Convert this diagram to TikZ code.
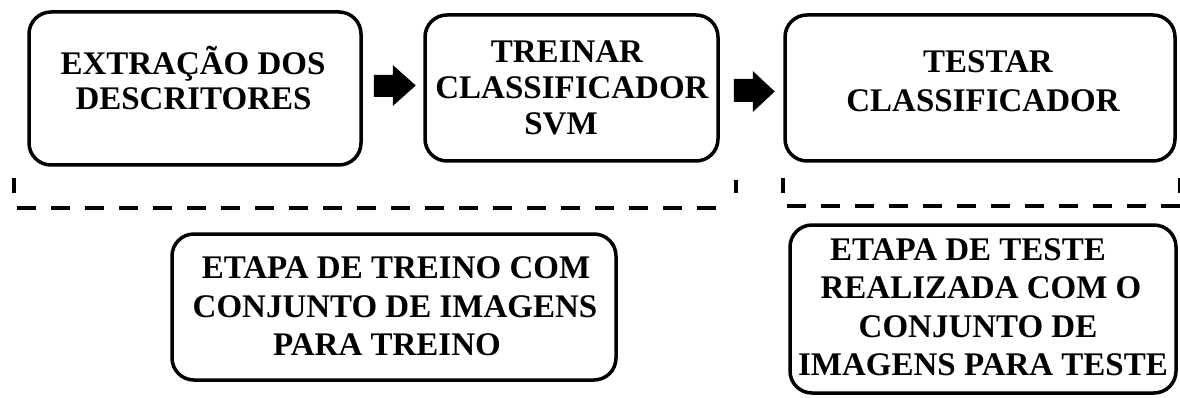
\documentclass[tikz,border=0pt]{standalone}
\usepackage{fontspec}
\setmainfont{Liberation Serif}
\usetikzlibrary{calc}
\begin{document}
\begin{tikzpicture}[x=1pt,y=-1pt,
  stagebox/.style={draw=black,line width=3.5pt,rounded corners=22pt,
    minimum width=#1,inner sep=0pt},
  txt/.style={font=\fontsize{33}{37}\selectfont\bfseries,anchor=base,inner sep=0pt},
  blockarrow/.style={fill=black},
  sep/.style={line width=4.5pt,dash pattern=on 19pt off 15pt},
  tick/.style={line width=4pt}]
\useasboundingbox (0,0) rectangle (1180,398);

% process stages
\node[stagebox=332pt,minimum height=153pt] (b1) at (195,88.5) {};
\node[stagebox=293pt,minimum height=146pt] (b2) at (571.5,88) {};
\node[stagebox=390pt,minimum height=146pt] (b3) at (980,88) {};

\node[txt] (b1a) at (193,75) {EXTRAÇÃO DOS};
\node[txt] (b1b) at (193.5,110) {DESCRITORES};

\node[txt] (b2a) at (567,63) {TREINAR};
\node[txt] (b2b) at (572,99) {CLASSIFICADOR};
\node[txt] (b2c) at (561,135) {SVM};

\node[txt] (b3a) at (988,73) {TESTAR};
\node[txt] (b3b) at (983,112) {CLASSIFICADOR};

% block arrows between stages
\fill[blockarrow] ($(b1.east)+(11,-13.5)$) -- ++(19,0) -- ++(0,-10) -- ++(23,20.5)
  -- ++(-23,20.5) -- ++(0,-9) -- ++(-19,0) -- cycle;
\fill[blockarrow] ($(b2.east)+(14,-9)$) -- ++(19,0) -- ++(0,-8) -- ++(22,20.5)
  -- ++(-22,20.5) -- ++(0,-10) -- ++(-19,0) -- cycle;

% phase separators
\coordinate (t1) at (14,178);
\coordinate (t2) at (736,180);
\coordinate (t3) at (783,178);
\coordinate (t4) at (1179.5,178);
\draw[tick] (t1) -- ++(0,15);
\draw[tick] (t2) -- ++(0,13);
\draw[tick] (t3) -- ++(0,15);
\draw[tick] (t4) -- ++(0,15);
\coordinate (d1a) at (17,208);
\coordinate (d1b) at (730,208);
\coordinate (d2a) at (787,206);
\coordinate (d2b) at (1180,206);
\draw[sep] (d1a) -- (d1b);
\draw[sep] (d2a) -- (d2b);

% phase descriptions
\node[stagebox=444pt,minimum height=146pt] (p1) at (394,307) {};
\node[stagebox=386pt,minimum height=168pt] (p2) at (983,309) {};

\node[txt] (p1a) at (396,278) {ETAPA DE TREINO COM};
\node[txt] (p1b) at (395,317) {CONJUNTO DE IMAGENS};
\node[txt] (p1c) at (387,355) {PARA TREINO};

\node[txt] (p2a) at (968,260) {ETAPA DE TESTE};
\node[txt] (p2b) at (981,298) {REALIZADA COM O};
\node[txt] (p2c) at (978,337) {CONJUNTO DE};
\node[txt] (p2d) at (983,375) {IMAGENS PARA TESTE};
\end{tikzpicture}
\end{document}
